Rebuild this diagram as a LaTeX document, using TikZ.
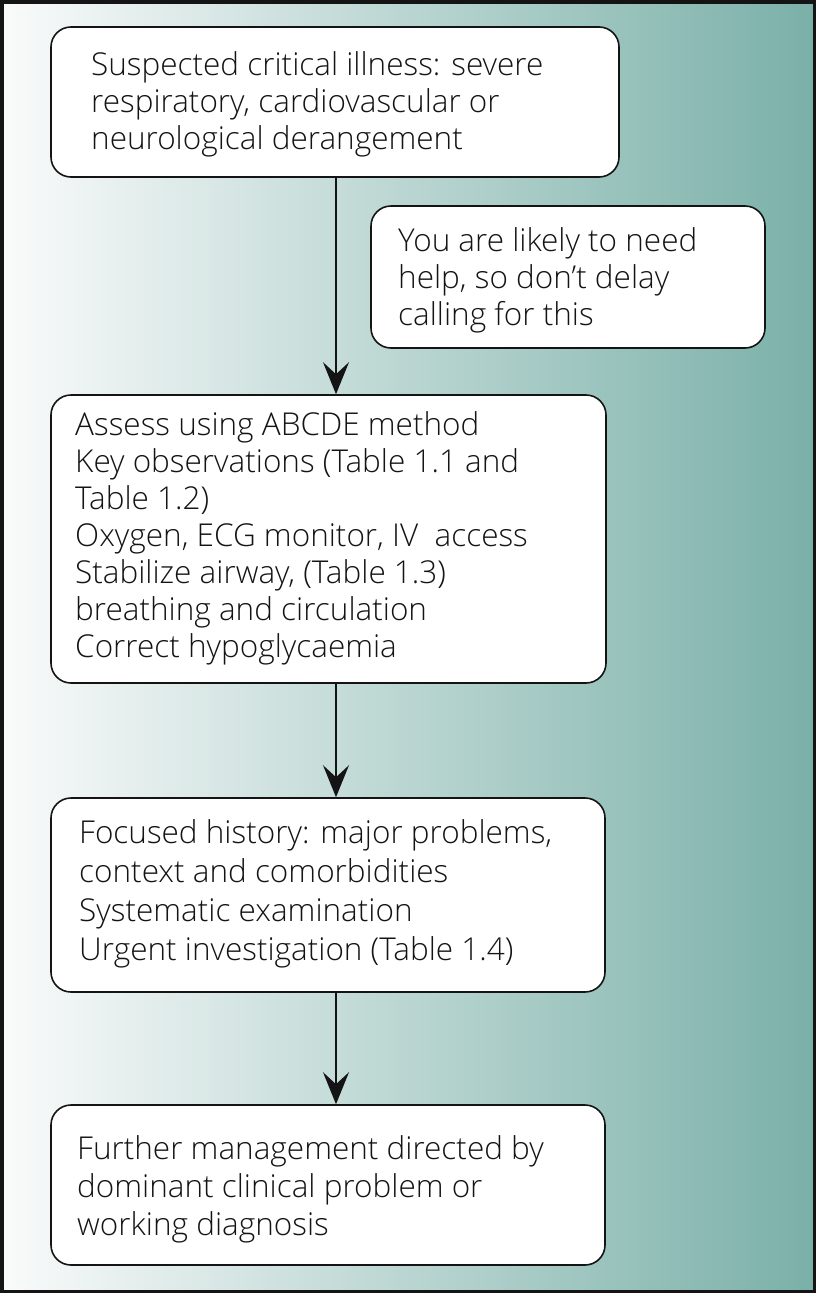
\documentclass[tikz,border=0pt]{standalone}
\usepackage{fontspec}
\setmainfont{Open Sans Light}
\usetikzlibrary{arrows.meta}
\definecolor{bgleft}{RGB}{250,251,251}
\definecolor{bgright}{RGB}{122,176,168}
\definecolor{ink}{RGB}{20,20,20}
\newcommand{\flines}[2]{{\fontsize{31.5}{#1}\selectfont\renewcommand{\arraystretch}{1}\begin{tabular}[t]{@{}l@{}}#2\end{tabular}}}
\tikzset{
  box/.style={draw=ink, line width=1.6pt, fill=white, rounded corners=20pt, inner sep=0pt},
  txt/.style={anchor=base west, inner sep=0pt, text=ink},
  flow/.style={draw=ink, line width=1.6pt, -{Stealth[length=32pt,width=26pt,inset=12pt]}}
}
\begin{document}
\begin{tikzpicture}[x=1pt,y=-1pt]
\useasboundingbox (0,0) rectangle (816,1293);
\shade[left color=bgleft, right color=bgright] (0,0) rectangle (816,1293);
\draw[ink, line width=3.5pt] (1.75,1.75) rectangle (814.25,1291.25);
% boxes
\node[box, minimum width=568pt, minimum height=150pt] (b1) at (335,102) {};
\node[box, minimum width=394pt, minimum height=142pt] (b2) at (568,277) {};
\node[box, minimum width=555pt, minimum height=288pt] (b3) at (328.5,539) {};
\node[box, minimum width=554pt, minimum height=194pt] (b4) at (328,895) {};
\node[box, minimum width=554pt, minimum height=160pt] (b5) at (328,1185) {};
% texts
\node[txt] (t1) at (91,75) {\flines{37}{Suspected critical illness: severe\\respiratory, cardiovascular or\\neurological derangement}};
\node[txt] (t2) at (398,251) {\flines{37}{You are likely to need\\help, so don’t delay\\calling for this}};
\node[txt] (t3) at (75,435) {\flines{37}{Assess using ABCDE method\\Key observations (Table 1.1 and\\Table 1.2)\\Oxygen, ECG monitor, IV\ \ access\\Stabilize airway, (Table 1.3)\\breathing and circulation\\Correct hypoglycaemia}};
\node[txt] (t4) at (79,843) {\flines{39}{Focused history: major problems,\\context and comorbidities\\Systematic examination\\Urgent investigation (Table 1.4)}};
\node[txt] (t5) at (77,1159) {\flines{38}{Further management directed by\\dominant clinical problem or\\working diagnosis}};
% connectors
\draw[flow] (b1.south -| 336,0) -- (b3.north -| 336,0);
\draw[flow] (b3.south -| 336,0) -- (b4.north -| 336,0);
\draw[flow] (b4.south -| 336,0) -- (b5.north -| 336,0);
\end{tikzpicture}
\end{document}
